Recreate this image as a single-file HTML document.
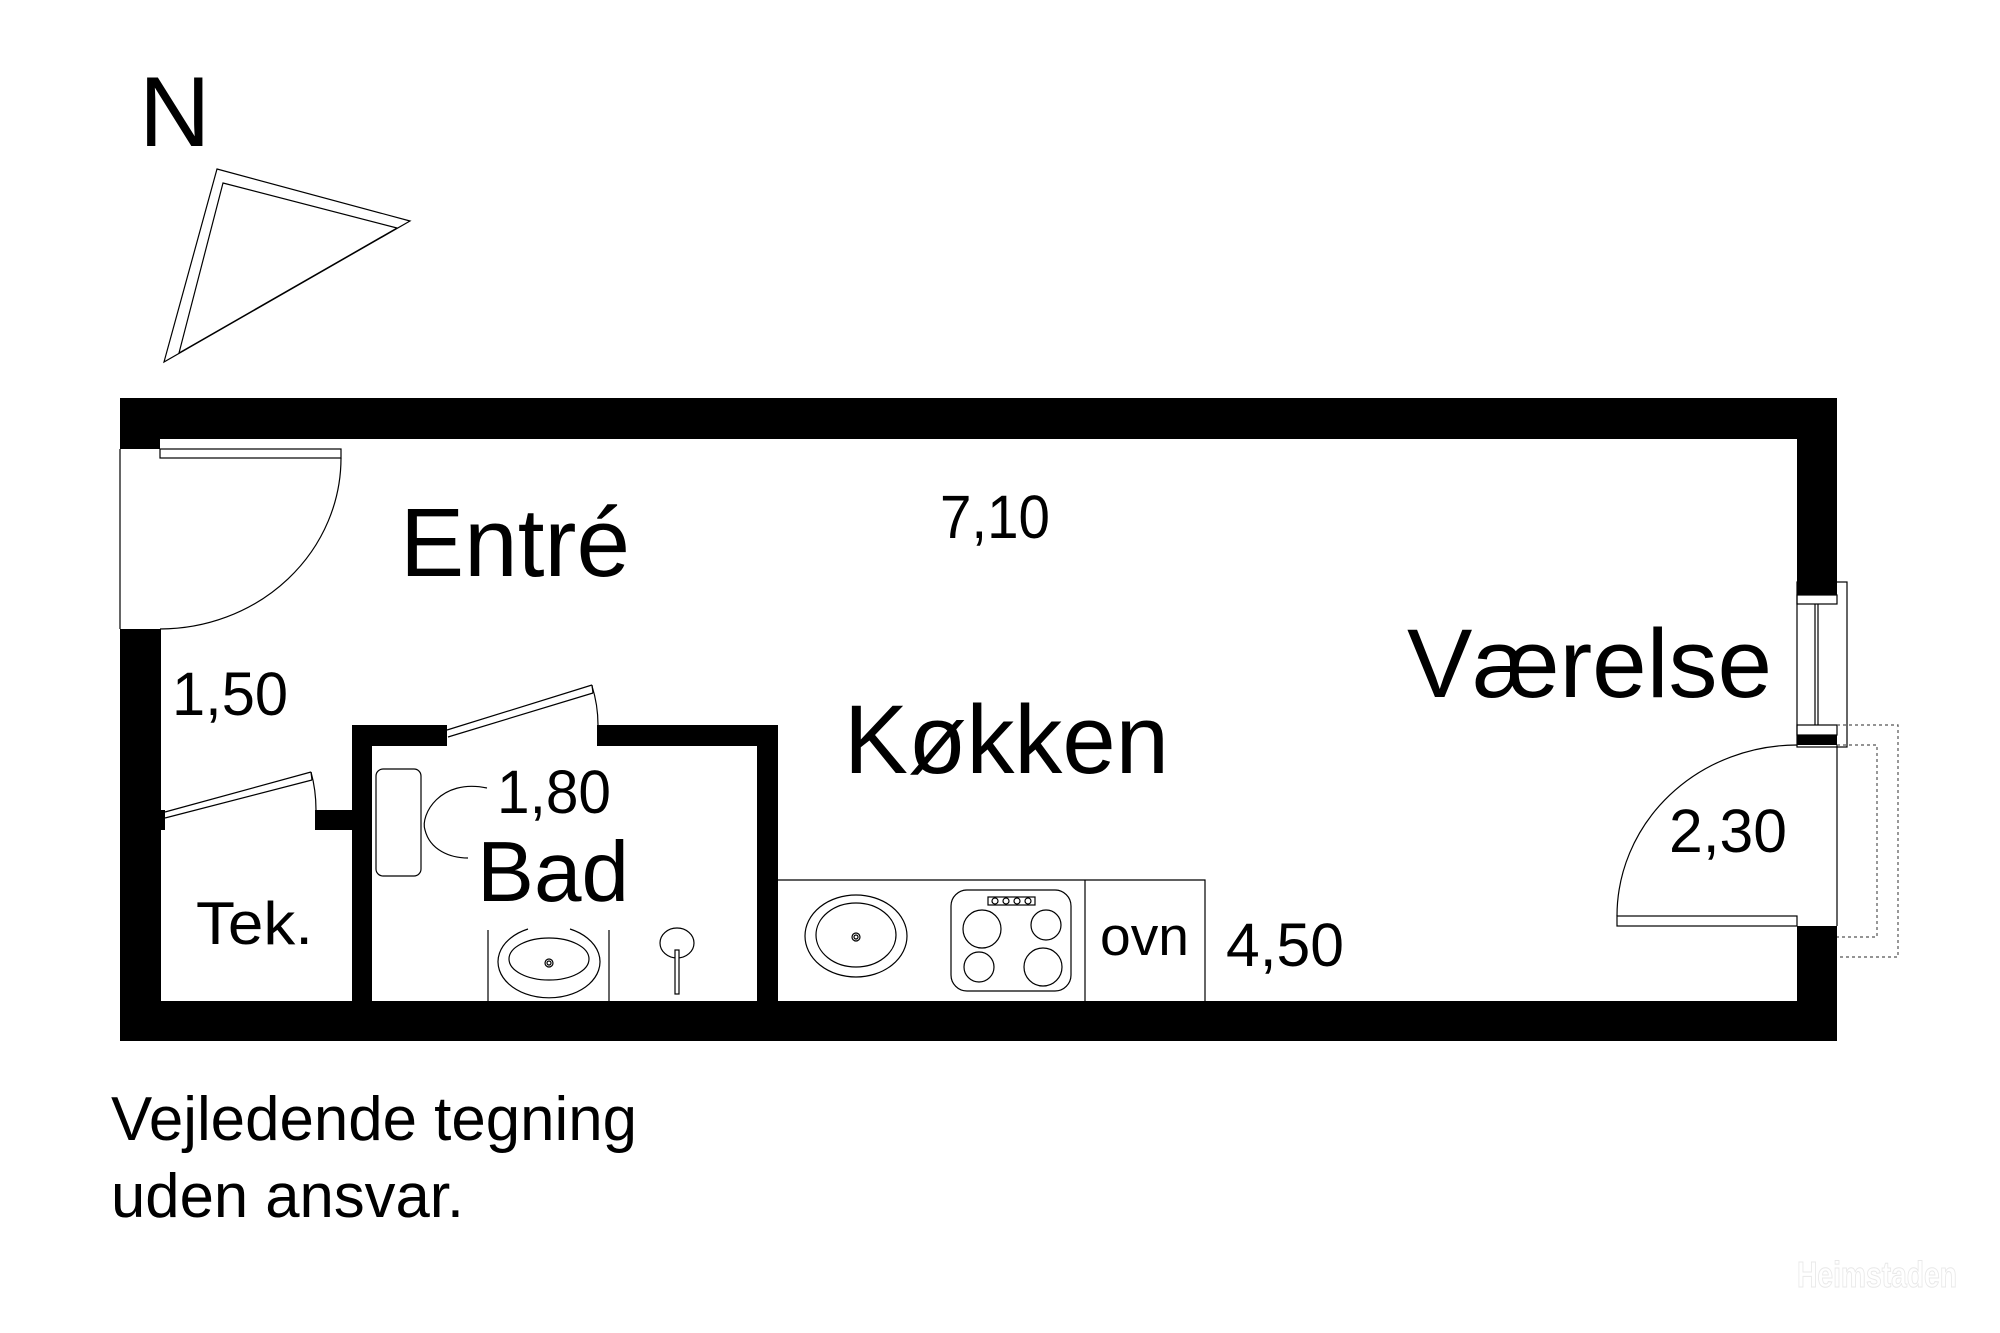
<!DOCTYPE html>
<html><head><meta charset="utf-8"><style>
html,body{margin:0;padding:0;background:#fff;}
svg{display:block;}
text{font-family:"Liberation Sans",Arial,sans-serif;fill:#000;}
</style></head><body>
<svg width="2000" height="1333" viewBox="0 0 2000 1333" xmlns="http://www.w3.org/2000/svg">
<rect width="2000" height="1333" fill="#fff"/>
<!-- North -->
<text x="139" y="146" font-size="99">N</text>
<polygon points="217,169 410,221 164,362" fill="none" stroke="#000" stroke-width="1.2"/>
<polygon points="223,183 397,228 179,353" fill="none" stroke="#000" stroke-width="1.2"/>

<g fill="#000">
<rect x="120" y="398" width="1717" height="41"/>
<rect x="120" y="439" width="40" height="10"/>
<rect x="120" y="629" width="41" height="412"/>
<rect x="161" y="810" width="4" height="20"/>
<rect x="120" y="1001" width="1717" height="40"/>
<rect x="315" y="810" width="37" height="20"/>
<rect x="352" y="725" width="20" height="276"/>
<rect x="352" y="725" width="95" height="21"/>
<rect x="597" y="725" width="180" height="21"/>
<rect x="757" y="725" width="21" height="276"/>
<rect x="1797" y="398" width="40" height="197"/>
<rect x="1797" y="735" width="40" height="10"/>
<rect x="1797" y="926" width="40" height="115"/>
</g>

<g fill="none" stroke="#000" stroke-width="1.2">
<line x1="120" y1="449" x2="120" y2="629"/>
<rect x="160" y="449" width="181" height="9"/>
<path d="M341,458 A181,171 0 0 1 160,629"/>
<line x1="165" y1="812" x2="311" y2="772"/>
<line x1="165" y1="818" x2="312" y2="780"/>
<line x1="311" y1="772" x2="312" y2="780"/>
<path d="M311,772 Q316,790 316,810"/>
<line x1="447" y1="730" x2="592" y2="685"/>
<line x1="448" y1="737" x2="593" y2="693"/>
<line x1="592" y1="685" x2="593" y2="693"/>
<path d="M592,686 Q598,705 598,725"/>
<rect x="1797" y="595" width="40" height="9"/>
<rect x="1797" y="582" width="50" height="165"/>
<line x1="1815" y1="604" x2="1815" y2="725"/>
<line x1="1818" y1="604" x2="1818" y2="725"/>
<rect x="1797" y="725" width="40" height="10"/>
<line x1="1837" y1="745" x2="1837" y2="926"/>
<rect x="1617" y="916" width="180" height="10"/>
<path d="M1797,745 A180,171 0 0 0 1617,916"/>
<rect x="376" y="769" width="45" height="107" rx="7"/>
<path d="M487,788 C440,778 420,815 425,830 C430,850 450,858 468,858"/>
<line x1="488" y1="930" x2="488" y2="1001"/>
<line x1="609" y1="930" x2="609" y2="1001"/>
<path d="M528,929 A51,36 0 1 0 570,929"/>
<ellipse cx="549" cy="959" rx="40" ry="21"/>
<circle cx="549" cy="963" r="4"/>
<circle cx="549" cy="963" r="2"/>
<ellipse cx="677" cy="943" rx="17" ry="15"/>
<rect x="675" y="950" width="4" height="44" fill="#fff"/>
<polyline points="778,880 1205,880 1205,1001"/>
<line x1="1085" y1="880" x2="1085" y2="1001"/>
<ellipse cx="856" cy="936" rx="51" ry="41"/>
<ellipse cx="856" cy="935" rx="40" ry="32"/>
<circle cx="856" cy="937" r="4"/>
<circle cx="856" cy="937" r="2"/>
<rect x="951" y="890" width="120" height="101" rx="16"/>
<rect x="988" y="897" width="47" height="8"/>
<circle cx="995" cy="901" r="3"/>
<circle cx="1006" cy="901" r="3"/>
<circle cx="1017" cy="901" r="3"/>
<circle cx="1028" cy="901" r="3"/>
<circle cx="982" cy="929" r="19"/>
<circle cx="1046" cy="925" r="15"/>
<circle cx="979" cy="967" r="15"/>
<circle cx="1043" cy="967" r="19"/>
</g>
<g fill="none" stroke="#555" stroke-width="1.2" stroke-dasharray="3,3">
<polyline points="1837,725 1898,725 1898,957 1837,957"/>
<polyline points="1837,745 1877,745 1877,937 1837,937"/>
</g>

<text x="400" y="576" font-size="97" textLength="230" lengthAdjust="spacingAndGlyphs">Entré</text>
<text x="940" y="538" font-size="61" textLength="110" lengthAdjust="spacingAndGlyphs">7,10</text>
<text x="1407" y="697" font-size="97" textLength="365" lengthAdjust="spacingAndGlyphs">Værelse</text>
<text x="844" y="773" font-size="97" textLength="325" lengthAdjust="spacingAndGlyphs">Køkken</text>
<text x="172" y="715" font-size="61" textLength="116" lengthAdjust="spacingAndGlyphs">1,50</text>
<text x="497" y="813" font-size="61" textLength="114" lengthAdjust="spacingAndGlyphs">1,80</text>
<text x="477" y="901" font-size="85" textLength="152" lengthAdjust="spacingAndGlyphs">Bad</text>
<text x="196" y="944" font-size="60" textLength="117" lengthAdjust="spacingAndGlyphs">Tek.</text>
<text x="1100" y="955" font-size="55" textLength="89" lengthAdjust="spacingAndGlyphs">ovn</text>
<text x="1226" y="966" font-size="61" textLength="118" lengthAdjust="spacingAndGlyphs">4,50</text>
<text x="1669" y="852" font-size="61" textLength="118" lengthAdjust="spacingAndGlyphs">2,30</text>
<text x="111" y="1140" font-size="62" textLength="526" lengthAdjust="spacingAndGlyphs">Vejledende tegning</text>
<text x="111" y="1217" font-size="62" textLength="353" lengthAdjust="spacingAndGlyphs">uden ansvar.</text>
<text x="1797" y="1287" font-size="36" font-weight="bold" style="fill:#fff;stroke:#e8e8e8;stroke-width:1" textLength="160" lengthAdjust="spacingAndGlyphs">Heimstaden</text>
</svg>
</body></html>
